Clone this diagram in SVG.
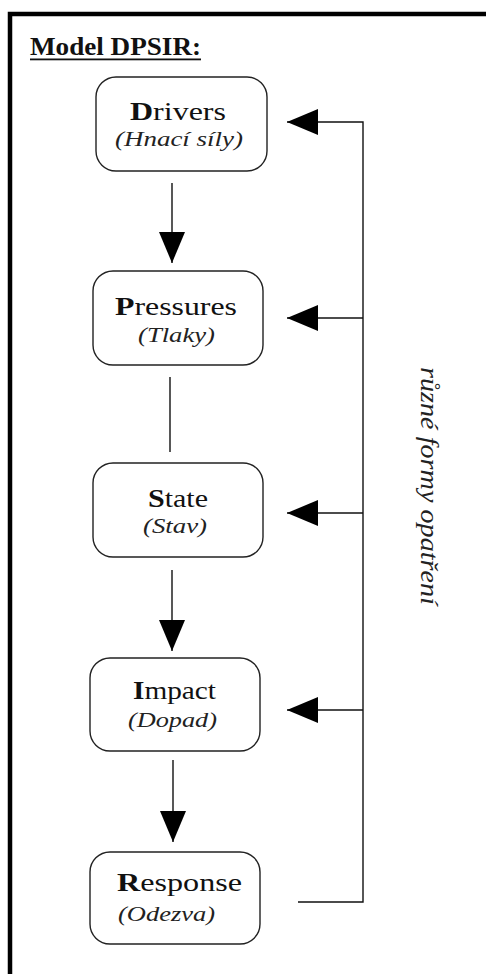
<svg xmlns="http://www.w3.org/2000/svg" width="486" height="974" viewBox="0 0 486 974">
  <style>
    .frame { fill: none; stroke: #000; stroke-width: 4.5; }
    .box { fill: #fff; stroke: #222; stroke-width: 1.4; }
    .conn { fill: none; stroke: #111; stroke-width: 1.4; }
    .name { font-family: "Liberation Serif", "Times New Roman", serif; font-size: 26px; fill: #111; }
    .name tspan.init { font-weight: bold; }
    .sub { font-family: "Liberation Serif", "Times New Roman", serif; font-size: 22px; font-style: italic; fill: #222; }
    .title { font-family: "Liberation Serif", "Times New Roman", serif; font-size: 26px; font-weight: bold; fill: #111; }
    .side { font-family: "Liberation Serif", "Times New Roman", serif; font-size: 26px; font-style: italic; fill: #222; }
  </style>
  <defs>
    <marker id="head" viewBox="0 0 31 26" refX="31" refY="13" markerWidth="31" markerHeight="26" markerUnits="userSpaceOnUse" orient="auto">
      <path d="M0,0 L31,13 L0,26 Z" fill="#000"/>
    </marker>
  </defs>

  <rect width="486" height="974" fill="#fff"/>

  <!-- outer frame: top and left edges -->
  <path class="frame" d="M10,974 V14 H486"/>

  <!-- heading -->
  <g id="title">
    <text class="title" x="30" y="55" textLength="171" lengthAdjust="spacingAndGlyphs">Model DPSIR:</text>
    <rect x="30" y="58.5" width="171" height="1.8" fill="#111"/>
  </g>

  <!-- chain and feedback connectors -->
  <g id="connectors">
    <line class="conn" x1="172" y1="183" x2="172" y2="263" marker-end="url(#head)"/>
    <line class="conn" x1="170" y1="377" x2="170" y2="452"/>
    <line class="conn" x1="172" y1="570" x2="172" y2="651" marker-end="url(#head)"/>
    <line class="conn" x1="173" y1="760" x2="173" y2="842" marker-end="url(#head)"/>

    <path class="conn" d="M298,902 H363 V122 H287" marker-end="url(#head)"/>
    <line class="conn" x1="363" y1="318" x2="287" y2="318" marker-end="url(#head)"/>
    <line class="conn" x1="363" y1="513" x2="287" y2="513" marker-end="url(#head)"/>
    <line class="conn" x1="363" y1="710" x2="287" y2="710" marker-end="url(#head)"/>
  </g>

  <!-- nodes -->
  <g id="drivers">
    <rect class="box" x="96" y="77" width="171" height="94" rx="20" ry="20"/>
    <text class="name" x="130" y="120" textLength="96" lengthAdjust="spacingAndGlyphs"><tspan class="init">D</tspan>rivers</text>
    <text class="sub" x="115" y="146" textLength="128" lengthAdjust="spacingAndGlyphs">(Hnací síly)</text>
  </g>

  <g id="pressures">
    <rect class="box" x="93" y="271" width="170" height="94" rx="20" ry="20"/>
    <text class="name" x="115" y="315" textLength="122" lengthAdjust="spacingAndGlyphs"><tspan class="init">P</tspan>ressures</text>
    <text class="sub" x="138" y="342" textLength="77" lengthAdjust="spacingAndGlyphs">(Tlaky)</text>
  </g>

  <g id="state">
    <rect class="box" x="93" y="463" width="170" height="94" rx="20" ry="20"/>
    <text class="name" x="148" y="507" textLength="60" lengthAdjust="spacingAndGlyphs"><tspan class="init">S</tspan>tate</text>
    <text class="sub" x="143" y="533" textLength="64" lengthAdjust="spacingAndGlyphs">(Stav)</text>
  </g>

  <g id="impact">
    <rect class="box" x="90" y="658" width="170" height="93" rx="20" ry="20"/>
    <text class="name" x="133" y="699" textLength="83" lengthAdjust="spacingAndGlyphs"><tspan class="init">I</tspan>mpact</text>
    <text class="sub" x="128" y="727" textLength="89" lengthAdjust="spacingAndGlyphs">(Dopad)</text>
  </g>

  <g id="response">
    <rect class="box" x="90" y="852" width="170" height="92" rx="20" ry="20"/>
    <text class="name" x="117" y="891" textLength="125" lengthAdjust="spacingAndGlyphs"><tspan class="init">R</tspan>esponse</text>
    <text class="sub" x="118" y="921" textLength="97" lengthAdjust="spacingAndGlyphs">(Odezva)</text>
  </g>

  <!-- label of the feedback loop -->
  <g id="feedback-label">
    <text class="side" transform="translate(421,367) rotate(90)" textLength="238" lengthAdjust="spacingAndGlyphs">různé formy opatření</text>
  </g>
</svg>
